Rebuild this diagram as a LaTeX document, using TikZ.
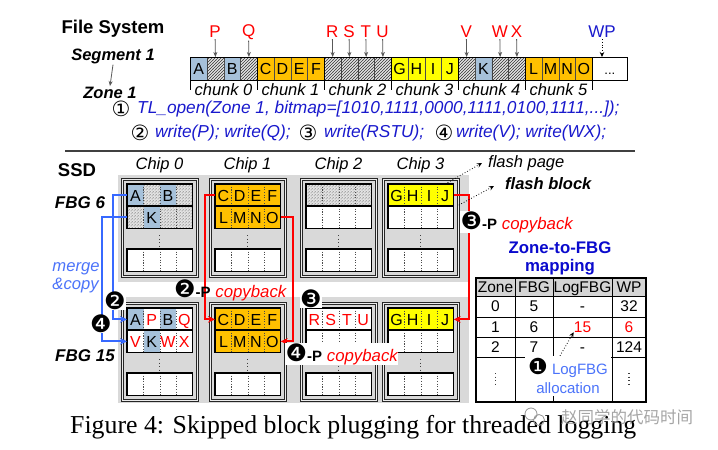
\documentclass[tikz,border=0pt]{standalone}
\usepackage{fontspec}
\setmainfont{Liberation Sans}
\newfontfamily\serifcap{Liberation Serif}
\newfontfamily\symf{DejaVu Sans}
\newfontfamily\cjkf{Noto Sans CJK SC}
\usetikzlibrary{patterns,arrows.meta,calc}
\pgfdeclarepatternformonly{dhatch}{\pgfqpoint{-1pt}{-1pt}}{\pgfqpoint{4pt}{4pt}}{\pgfqpoint{3pt}{3pt}}{%
  \pgfsetlinewidth{0.65pt}%
  \pgfpathmoveto{\pgfqpoint{-0.1pt}{-0.1pt}}%
  \pgfpathlineto{\pgfqpoint{3.1pt}{3.1pt}}%
  \pgfusepath{stroke}}
\definecolor{cellblue}{RGB}{166,193,218}
\definecolor{cellorange}{RGB}{255,192,0}
\definecolor{cellyellow}{RGB}{255,255,0}
\definecolor{hatchbg}{RGB}{230,230,230}
\definecolor{bggray}{RGB}{217,217,217}
\definecolor{cmdblue}{RGB}{25,25,205}
\definecolor{lblue}{RGB}{75,115,250}
\definecolor{arrblue}{RGB}{55,105,255}
\definecolor{mapblue}{RGB}{10,10,205}
\definecolor{hdrgray}{RGB}{212,212,212}
\definecolor{wmgray}{RGB}{150,150,150}
\newcommand\fsz[1]{\fontsize{#1}{#1}\selectfont}
\tikzset{
  kind/.code={\pgfkeysalso{/tikz/#1}},
  cB/.style={fill=cellblue},
  cO/.style={fill=cellorange},
  cY/.style={fill=cellyellow},
  cW/.style={fill=white},
  cH/.style={fill=hatchbg, postaction={pattern=dhatch, pattern color=black!80}},
  scell/.style={draw=black!70, line width=0.6pt, minimum width=16.75pt, minimum height=23pt, inner sep=0pt, text height=11.5pt, text depth=0pt, font=\fsz{16}, anchor=north west},
  pcell/.style={draw=black!70, dotted, line width=0.7pt, minimum width=16.25pt, minimum height=22pt, inner sep=0pt, text height=11.5pt, text depth=0pt, font=\fsz{16}, anchor=north west},
  rowframe/.style={draw=black, line width=1.1pt},
  chipbox/.style={draw=black!85, line width=0.8pt, double=bggray!50!white, double distance=1.1pt, fill=bggray, minimum width=75pt, minimum height=97pt, inner sep=0pt, anchor=north west},
  garrow/.style={draw=black!65, line width=0.8pt, -{Stealth[length=5pt,width=4pt]}},
  dotarr/.style={draw=black, line width=0.8pt, dotted, -{Stealth[length=5pt,width=4.5pt]}},
  barr/.style={draw=arrblue, line width=1.8pt, -{Stealth[length=7pt,width=6.5pt]}},
  rarr/.style={draw=red, line width=1.8pt, -{Stealth[length=7pt,width=6.5pt]}},
  vdot/.style={draw=black!75, line width=1.3pt, dash pattern=on 1.3pt off 2.2pt},
  lbl/.style={inner sep=1pt, font=\fsz{16.5}},
  tcell/.style={inner sep=1pt, font=\fsz{15.5}, text height=11pt, text depth=3pt},
  wcirc/.style={inner sep=1pt, font=\symf\fsz{21}},
  bcirc/.style={fill=white, inner sep=0.3pt, font=\symf\fsz{24}},
}
\newcommand\bnum[1]{{\symf\fsz{24}#1}}
\newcommand\prow[4]{%
  \foreach [count=\i from 0] \kf/\kt/\kc in {#4}
    \node[pcell, kind/.expand once=\kf, text=\kc] (#1-\i) at ({#2+\i*16.25},#3) {\kt};
  \draw[rowframe] (#1-0.north west) rectangle (#1-3.south east);
}
\newcommand\erow[3]{\prow{#1}{#2}{#3}{cW/{}/black,cW/{}/black,cW/{}/black,cW/{}/black}}
\newcommand\chip[3]{%
  \node[chipbox] (#1) at (#2,#3) {};
  \draw[vdot] ({#2+37.5},{#3+56}) -- ++(0,11);
}
\begin{document}
\begin{tikzpicture}[x=1pt,y=-1pt]
\fill[white] (0,0) rectangle (718,450);
\useasboundingbox (0,0) rectangle (718,450);
% ---- File system part
\node[font=\bfseries\fsz{18.5}, inner sep=1pt] (fs) at (113,29) {File System};
\node[font=\bfseries\itshape\fsz{16.5}, inner sep=1pt] (seg) at (113,56) {Segment 1};
\node[font=\bfseries\itshape\fsz{16.5}, inner sep=1pt] (zone) at (110,93) {Zone 1};
\draw[garrow] (seg.south) -- (zone.north);
\foreach [count=\i from 0] \kf/\kt in {cB/A,cH/{},cB/B,cH/{},cO/C,cO/D,cO/E,cO/F,cH/{},cH/{},cH/{},cH/{},cY/G,cY/H,cY/I,cY/J,cH/{},cB/K,cH/{},cH/{},cO/L,cO/M,cO/N,cO/O}
  \node[scell, kind/.expand once=\kf] (s\i) at ({190+\i*16.75},57) {\kt};
\node[scell, fill=white, minimum width=35pt, font=\fsz{13}] (sdots) at (592,57) {...};
\draw[line width=1pt] (s0.north west) rectangle (sdots.south east);
\foreach \k in {4,8,12,16,20} \draw[line width=1pt] (s\k.north west) -- (s\k.south west);
\draw[line width=1pt] (sdots.north west) -- (sdots.south west);
\foreach \k in {0,4,8,12,16,20} \draw[line width=0.8pt] (s\k.south west) -- ++(0,9);
\draw[line width=0.8pt] (sdots.south west) -- ++(0,9);
\foreach \cc in {0,...,5}
  \node[lbl, font=\itshape\fsz{16.5}] (ch\cc) at ({190+(4*\cc+2)*16.75},90) {chunk \cc};
\foreach \k/\l in {1/P,3/Q,8/R,9/S,10/T,11/U,16/V,18/W,19/X} {
  \node[lbl, text=red, font=\fsz{17}] (L\l) at ({190+(\k+0.5)*16.75},32) {\l};
  \draw[garrow] (L\l.south) -- (s\k.north);
}
\node[lbl, text=cmdblue, font=\fsz{17}] (LWP) at (602,32) {WP};
\draw[dotarr] (LWP.south) -- (LWP.south |- sdots.north);
% commands
\node[wcirc] (c1) at (121,109) {①};
\node[lbl, anchor=west, text=cmdblue, font=\itshape\fsz{17.3}] (t1) at (136,109) {TL\_open(Zone 1, bitmap=[1010,1111,0000,1111,0100,1111,...]);};
\node[wcirc] (c2) at (140,133) {②};
\node[lbl, anchor=west, text=cmdblue, font=\itshape\fsz{17.3}] (t2) at (154,133) {write(P); write(Q);};
\node[wcirc] (c3) at (308,133) {③};
\node[lbl, anchor=west, text=cmdblue, font=\itshape\fsz{17.3}] (t3) at (323,133) {write(RSTU);};
\node[wcirc] (c4) at (444,133) {④};
\node[lbl, anchor=west, text=cmdblue, font=\itshape\fsz{17.3}] (t4) at (455,133) {write(V); write(WX);};
\draw[line width=2pt, black!75] (65,151) -- (635,151);
% ---- SSD part
\node[lbl, font=\bfseries\fsz{18.5}] (ssd) at (77,170) {SSD};
\foreach \cx/\n in {159.5/0,247.5/1,338.5/2,420.5/3}
  \node[lbl, font=\itshape\fsz{16.5}] (chl\n) at (\cx,165) {Chip \n};
\fill[bggray] (118,175) rectangle (469,282);
\fill[bggray] (118,297) rectangle (469,403);
% top FBG 6
\chip{c0t}{122}{179}
\prow{t0a}{127}{184}{cB/A/black,cH/{}/black,cB/B/black,cH/{}/black}
\prow{t0b}{127}{206}{cH/{}/black,cB/K/black,cH/{}/black,cH/{}/black}
\erow{t0c}{127}{249}
\chip{c1t}{210}{179}
\prow{t1a}{215}{184}{cO/C/black,cO/D/black,cO/E/black,cO/F/black}
\prow{t1b}{215}{206}{cO/L/black,cO/M/black,cO/N/black,cO/O/black}
\erow{t1c}{215}{249}
\chip{c2t}{301}{179}
\prow{t2a}{306}{184}{cH/{}/black,cH/{}/black,cH/{}/black,cH/{}/black}
\erow{t2b}{306}{206}
\erow{t2c}{306}{249}
\chip{c3t}{383}{179}
\prow{t3a}{388}{184}{cY/G/black,cY/H/black,cY/I/black,cY/J/black}
\erow{t3b}{388}{206}
\erow{t3c}{388}{249}
% bottom FBG 15
\chip{c0b}{122}{303}
\prow{b0a}{127}{308}{cB/A/black,cW/P/red,cB/B/black,cW/Q/red}
\prow{b0b}{127}{330}{cW/V/red,cB/K/black,cW/W/red,cW/X/red}
\erow{b0c}{127}{373}
\chip{c1b}{210}{303}
\prow{b1a}{215}{308}{cO/C/black,cO/D/black,cO/E/black,cO/F/black}
\prow{b1b}{215}{330}{cO/L/black,cO/M/black,cO/N/black,cO/O/black}
\erow{b1c}{215}{373}
\chip{c2b}{301}{303}
\prow{b2a}{306}{308}{cW/R/red,cW/S/red,cW/T/red,cW/U/red}
\erow{b2b}{306}{330}
\erow{b2c}{306}{373}
\chip{c3b}{383}{303}
\prow{b3a}{388}{308}{cY/G/black,cY/H/black,cY/I/black,cY/J/black}
\erow{b3b}{388}{330}
\erow{b3c}{388}{373}
% labels
\node[lbl, font=\bfseries\itshape\fsz{17}] (fbg6) at (80,203) {FBG 6};
\node[lbl, font=\bfseries\itshape\fsz{17}] (fbg15) at (85,356) {FBG 15};
\node[inner sep=1pt, align=left, text=lblue, font=\itshape\fontsize{16.6}{18}\selectfont] (mc) at (76,278) {merge\\\&copy};
% connectors
\draw[barr] (t0a-0.west) -- ++(-14,0) |- (b0a-0.west);
\draw[barr] (t0b-0.west) -- ++(-25,0) |- (b0b-0.west);
\draw[rarr] (t1a-0.west) -- ++(-10,0) |- (b1a-0.west);
\draw[rarr] (t1b-3.east) -- ++(12,0) |- (b1b-3.east);
\draw[rarr] (t3a-3.east) -- ++(15,0) |- (b3a-3.east);
% step markers
\node[bcirc] (m2) at (115,301) {❷};
\node[bcirc] (m4) at (101,324) {❹};
\node[anchor=west, inner sep=1pt, font=\fsz{16.8}] (p2) at (173,290) {\bnum{❷}{\bfseries\fsz{15}-P} {\color{red}\itshape copyback}};
\node[bcirc] (m3) at (311,299) {❸};
\node[anchor=west, fill=white, inner sep=0.5pt, font=\fsz{16.8}] (p4) at (285,354) {\bnum{❹}{\bfseries\fsz{15}-P} {\color{red}\itshape copyback}};
\node[anchor=west, fill=white, inner sep=0.5pt, font=\fsz{16.8}] (p3) at (460,222) {\bnum{❸}{\bfseries\fsz{15}-P} {\color{red}\itshape copyback}};
% flash page / block
\node[lbl, anchor=west, font=\itshape\fsz{16.5}] (fp) at (487,163) {flash page};
\node[lbl, anchor=west, font=\bfseries\itshape\fsz{16.5}] (fb) at (504,184) {flash block};
\draw[dotarr] (t3a-3.north) -- ([xshift=-5pt]fp.west);
\draw[dotarr] (c3t.31) -- ([xshift=-10pt,yshift=-2pt]fb.west);
% mapping table
\node[inner sep=1pt, align=center, text=mapblue, font=\bfseries\fontsize{16.8}{17.5}\selectfont] (mt) at (560,258.5) {Zone-to-FBG\\mapping};
\fill[hdrgray] (476,278) rectangle (646,296);
\draw[line width=1pt] (476,296) -- (646,296) (476,317) -- (646,317) (476,337) -- (646,337) (476,357) -- (646,357)
  (515,278) -- (515,402) (553,278) -- (553,402) (612,278) -- (612,402);
\draw[line width=1.3pt] (476,278) rectangle (646,402);
\foreach \tx/\col in {Zone/495.5, FBG/534, LogFBG/582.5, WP/629}
  \node[tcell] (h\tx) at (\col,288) {\tx};
\foreach \r/\y/\a/\b in {0/307.5/0/5, 1/328/1/6, 2/348/2/7} {
  \node[tcell] (z\r) at (495.5,\y) {\a};
  \node[tcell] (f\r) at (534,\y) {\b};
}
\node[tcell] (l0) at (582.5,307.5) {-};
\node[tcell] (w0) at (629,307.5) {32};
\node[tcell, text=red] (l1) at (582.5,328) {15};
\node[tcell, text=red] (w1) at (629,328) {6};
\node[tcell] (l2) at (582.5,348) {-};
\node[tcell] (w2) at (629,348) {124};
\draw[vdot] (495.5,373) -- ++(0,12);
\draw[vdot] (629,373) -- ++(0,12);
\node[fill=white, minimum width=86pt, minimum height=40pt, inner sep=0pt, align=center, text=lblue, font=\fontsize{15}{19}\selectfont] (alloc) at (568,376) {{\color{black}\symf\fsz{22}❶} LogFBG\\allocation};
\draw[dotarr] ([xshift=-8pt]alloc.north) -- ([yshift=4pt,xshift=1pt]l1.south west);
% caption
\node[anchor=base west, inner sep=0pt, font=\serifcap\fsz{25.8}] (cap) at (70,433) {Figure 4: Skipped block plugging for threaded logging};
% watermark
\draw[wmgray, line width=0.8pt] (531,414) circle (6) (539,420) circle (5.5);
\node[anchor=west, inner sep=0pt, text=wmgray, opacity=0.85, font=\cjkf\fsz{16.5}] (wm) at (561,417) {赵同学的代码时间};
\end{tikzpicture}
\end{document}
